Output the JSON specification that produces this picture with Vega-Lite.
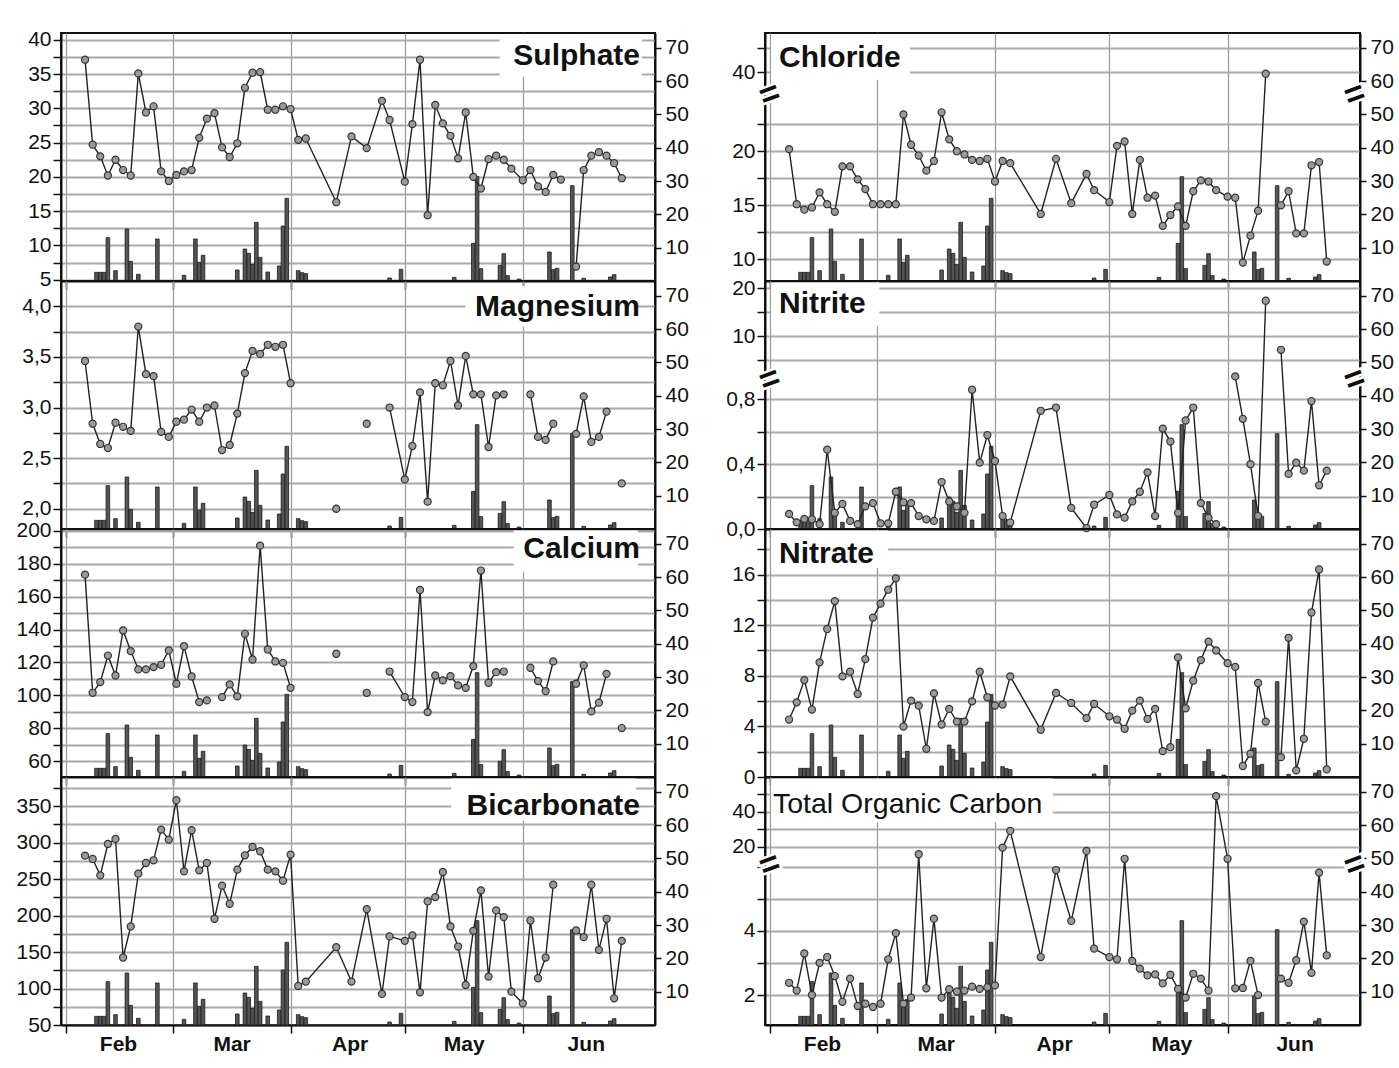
{
"$schema": "https://vega.github.io/schema/vega-lite/v6.json",
"background": "white",
"padding": {"left": 14, "top": 27, "right": 2, "bottom": 4},
"config": {
  "font": "Liberation Sans",
  "view": {"stroke": "#111", "strokeWidth": 2},
  "axis": {"labelFont": "Liberation Sans", "labelFontSize": 21, "labelColor": "#111", "domainColor": "#111", "domainWidth": 2, "tickColor": "#111", "tickWidth": 1.5, "tickSize": 8, "labelPadding": 2, "gridColor": "#a9a9a9", "gridWidth": 2, "title": null, "labelOverlap": false},
  "axisX": {"gridColor": "#9c9c9c", "gridWidth": 1.3},
  "title": {"font": "Liberation Sans", "fontSize": 30, "fontWeight": "bold", "color": "#111"}
},
"datasets": {
"rain": [
{"d":"2010-02-09","p":2.6},{"d":"2010-02-10","p":2.6},{"d":"2010-02-11","p":2.6},{"d":"2010-02-12","p":13.0},{"d":"2010-02-14","p":3.1},
{"d":"2010-02-17","p":15.6},{"d":"2010-02-18","p":5.9},{"d":"2010-02-20","p":2.0},{"d":"2010-02-25","p":12.6},{"d":"2010-03-04","p":1.7},
{"d":"2010-03-07","p":12.6},{"d":"2010-03-08","p":5.6},{"d":"2010-03-09","p":7.7},{"d":"2010-03-18","p":3.3},{"d":"2010-03-20","p":9.6},
{"d":"2010-03-21","p":8.3},{"d":"2010-03-22","p":5.0},{"d":"2010-03-23","p":17.6},{"d":"2010-03-24","p":7.1},{"d":"2010-03-26","p":2.7},
{"d":"2010-03-29","p":4.5},{"d":"2010-03-30","p":16.5},{"d":"2010-03-31","p":24.8},{"d":"2010-04-03","p":3.1},{"d":"2010-04-04","p":2.5},
{"d":"2010-04-05","p":2.2},{"d":"2010-04-27","p":0.9},{"d":"2010-04-30","p":3.5},{"d":"2010-05-14","p":1.1},{"d":"2010-05-19","p":11.3},
{"d":"2010-05-20","p":31.3},{"d":"2010-05-21","p":3.7},{"d":"2010-05-26","p":4.7},{"d":"2010-05-27","p":8.2},{"d":"2010-05-28","p":1.6},
{"d":"2010-05-31","p":0.6},{"d":"2010-06-08","p":8.7},{"d":"2010-06-09","p":3.4},{"d":"2010-06-10","p":3.8},{"d":"2010-06-14","p":28.6},
{"d":"2010-06-17","p":0.8},{"d":"2010-06-24","p":1.2},{"d":"2010-06-25","p":1.9}
],
"SO4": [
{"d":"2010-02-06","v":37.1,"s":1},{"d":"2010-02-08","v":24.7,"s":1},{"d":"2010-02-10","v":23.0,"s":1},{"d":"2010-02-12","v":20.2,"s":1},{"d":"2010-02-14","v":22.5,"s":1},{"d":"2010-02-16","v":21.0,"s":1},{"d":"2010-02-18","v":20.2,"s":1},{"d":"2010-02-20","v":35.1,"s":1},{"d":"2010-02-22","v":29.4,"s":1},{"d":"2010-02-24","v":30.3,"s":1},{"d":"2010-02-26","v":20.8,"s":1},{"d":"2010-02-28","v":19.4,"s":1},
{"d":"2010-03-02","v":20.3,"s":1},{"d":"2010-03-04","v":20.8,"s":1},{"d":"2010-03-06","v":21.0,"s":1},{"d":"2010-03-08","v":25.7,"s":1},{"d":"2010-03-10","v":28.5,"s":1},{"d":"2010-03-12","v":29.3,"s":1},{"d":"2010-03-14","v":24.3,"s":1},{"d":"2010-03-16","v":22.9,"s":1},{"d":"2010-03-18","v":24.9,"s":1},{"d":"2010-03-20","v":33.0,"s":1},{"d":"2010-03-22","v":35.2,"s":1},{"d":"2010-03-24","v":35.3,"s":1},{"d":"2010-03-26","v":29.8,"s":1},{"d":"2010-03-28","v":29.8,"s":1},{"d":"2010-03-30","v":30.3,"s":1},
{"d":"2010-04-01","v":29.9,"s":1},{"d":"2010-04-03","v":25.4,"s":1},{"d":"2010-04-05","v":25.6,"s":1},{"d":"2010-04-13","v":16.3,"s":1},{"d":"2010-04-17","v":25.9,"s":1},{"d":"2010-04-21","v":24.2,"s":1},{"d":"2010-04-25","v":31.1,"s":1},{"d":"2010-04-27","v":28.3,"s":1},
{"d":"2010-05-01","v":19.3,"s":1},{"d":"2010-05-03","v":27.7,"s":1},{"d":"2010-05-05","v":37.1,"s":1},{"d":"2010-05-07","v":14.4,"s":1},{"d":"2010-05-09","v":30.5,"s":1},{"d":"2010-05-11","v":27.8,"s":1},{"d":"2010-05-13","v":26.0,"s":1},{"d":"2010-05-15","v":22.7,"s":1},{"d":"2010-05-17","v":29.4,"s":1},{"d":"2010-05-19","v":20.0,"s":1},{"d":"2010-05-21","v":18.3,"s":1},{"d":"2010-05-23","v":22.6,"s":1},{"d":"2010-05-25","v":23.1,"s":1},{"d":"2010-05-27","v":22.5,"s":1},{"d":"2010-05-29","v":21.2,"s":1},
{"d":"2010-06-01","v":19.5,"s":1},{"d":"2010-06-03","v":21.0,"s":1},{"d":"2010-06-05","v":18.6,"s":1},{"d":"2010-06-07","v":17.8,"s":1},{"d":"2010-06-09","v":20.3,"s":1},{"d":"2010-06-11","v":19.6,"s":1},
{"d":"2010-06-15","v":6.9,"s":2},{"d":"2010-06-17","v":21.0,"s":2},{"d":"2010-06-19","v":23.1,"s":2},{"d":"2010-06-21","v":23.6,"s":2},{"d":"2010-06-23","v":23.1,"s":2},{"d":"2010-06-25","v":22.0,"s":2},{"d":"2010-06-27","v":19.8,"s":2}
],
"Mg": [
{"d":"2010-02-06","v":3.46,"s":1},{"d":"2010-02-08","v":2.84,"s":1},{"d":"2010-02-10","v":2.64,"s":1},{"d":"2010-02-12","v":2.60,"s":1},{"d":"2010-02-14","v":2.85,"s":1},{"d":"2010-02-16","v":2.81,"s":1},{"d":"2010-02-18","v":2.77,"s":1},{"d":"2010-02-20","v":3.80,"s":1},{"d":"2010-02-22","v":3.33,"s":1},{"d":"2010-02-24","v":3.31,"s":1},{"d":"2010-02-26","v":2.76,"s":1},{"d":"2010-02-28","v":2.71,"s":1},
{"d":"2010-03-02","v":2.86,"s":1},{"d":"2010-03-04","v":2.88,"s":1},{"d":"2010-03-06","v":2.98,"s":1},{"d":"2010-03-08","v":2.86,"s":1},{"d":"2010-03-10","v":3.00,"s":1},{"d":"2010-03-12","v":3.02,"s":1},{"d":"2010-03-14","v":2.58,"s":1},{"d":"2010-03-16","v":2.63,"s":1},{"d":"2010-03-18","v":2.94,"s":1},{"d":"2010-03-20","v":3.34,"s":1},{"d":"2010-03-22","v":3.56,"s":1},{"d":"2010-03-24","v":3.53,"s":1},{"d":"2010-03-26","v":3.62,"s":1},{"d":"2010-03-28","v":3.60,"s":1},{"d":"2010-03-30","v":3.62,"s":1},{"d":"2010-04-01","v":3.24,"s":1},
{"d":"2010-04-13","v":2.00,"s":2},
{"d":"2010-04-21","v":2.84,"s":3},
{"d":"2010-04-27","v":3.00,"s":4},{"d":"2010-05-01","v":2.29,"s":4},{"d":"2010-05-03","v":2.62,"s":4},{"d":"2010-05-05","v":3.15,"s":4},{"d":"2010-05-07","v":2.07,"s":4},{"d":"2010-05-09","v":3.24,"s":4},{"d":"2010-05-11","v":3.22,"s":4},{"d":"2010-05-13","v":3.46,"s":4},{"d":"2010-05-15","v":3.02,"s":4},{"d":"2010-05-17","v":3.51,"s":4},{"d":"2010-05-19","v":3.13,"s":4},{"d":"2010-05-21","v":3.13,"s":4},{"d":"2010-05-23","v":2.61,"s":4},{"d":"2010-05-25","v":3.12,"s":4},{"d":"2010-05-27","v":3.13,"s":4},
{"d":"2010-06-03","v":3.13,"s":5},{"d":"2010-06-05","v":2.71,"s":5},{"d":"2010-06-07","v":2.68,"s":5},{"d":"2010-06-09","v":2.84,"s":5},
{"d":"2010-06-15","v":2.74,"s":6},{"d":"2010-06-17","v":3.11,"s":6},{"d":"2010-06-19","v":2.66,"s":6},{"d":"2010-06-21","v":2.71,"s":6},{"d":"2010-06-23","v":2.96,"s":6},
{"d":"2010-06-27","v":2.25,"s":7}
],
"Ca": [
{"d":"2010-02-06","v":173.3,"s":1},{"d":"2010-02-08","v":101.6,"s":1},{"d":"2010-02-10","v":108.1,"s":1},{"d":"2010-02-12","v":124.2,"s":1},{"d":"2010-02-14","v":112.1,"s":1},{"d":"2010-02-16","v":139.4,"s":1},{"d":"2010-02-18","v":126.9,"s":1},{"d":"2010-02-20","v":115.8,"s":1},{"d":"2010-02-22","v":115.8,"s":1},{"d":"2010-02-24","v":117.2,"s":1},{"d":"2010-02-26","v":118.6,"s":1},{"d":"2010-02-28","v":127.3,"s":1},
{"d":"2010-03-02","v":107.1,"s":1},{"d":"2010-03-04","v":129.9,"s":1},{"d":"2010-03-06","v":111.5,"s":1},{"d":"2010-03-08","v":96.0,"s":1},{"d":"2010-03-10","v":97.0,"s":1},
{"d":"2010-03-14","v":99.0,"s":2},{"d":"2010-03-16","v":106.7,"s":2},{"d":"2010-03-18","v":99.4,"s":2},{"d":"2010-03-20","v":137.4,"s":2},{"d":"2010-03-22","v":121.8,"s":2},{"d":"2010-03-24","v":190.9,"s":2},{"d":"2010-03-26","v":127.9,"s":2},{"d":"2010-03-28","v":120.6,"s":2},{"d":"2010-03-30","v":119.8,"s":2},{"d":"2010-04-01","v":104.6,"s":2},
{"d":"2010-04-13","v":125.3,"s":3},
{"d":"2010-04-21","v":101.6,"s":4},
{"d":"2010-04-27","v":114.5,"s":5},{"d":"2010-05-01","v":99.0,"s":5},{"d":"2010-05-03","v":96.0,"s":5},{"d":"2010-05-05","v":164.0,"s":5},{"d":"2010-05-07","v":89.9,"s":5},{"d":"2010-05-09","v":112.1,"s":5},{"d":"2010-05-11","v":109.1,"s":5},{"d":"2010-05-13","v":111.7,"s":5},{"d":"2010-05-15","v":106.1,"s":5},{"d":"2010-05-17","v":104.6,"s":5},{"d":"2010-05-19","v":117.8,"s":5},{"d":"2010-05-21","v":175.8,"s":5},{"d":"2010-05-23","v":107.7,"s":5},{"d":"2010-05-25","v":114.1,"s":5},{"d":"2010-05-27","v":114.5,"s":5},
{"d":"2010-06-03","v":116.8,"s":6},{"d":"2010-06-05","v":108.7,"s":6},{"d":"2010-06-07","v":102.6,"s":6},{"d":"2010-06-09","v":120.6,"s":6},
{"d":"2010-06-15","v":107.1,"s":7},{"d":"2010-06-17","v":118.2,"s":7},{"d":"2010-06-19","v":90.3,"s":7},{"d":"2010-06-21","v":95.6,"s":7},{"d":"2010-06-23","v":113.1,"s":7},
{"d":"2010-06-27","v":80.2,"s":8}
],
"HCO3": [
{"d":"2010-02-06","v":282.2,"s":1},{"d":"2010-02-08","v":277.6,"s":1},{"d":"2010-02-10","v":255.2,"s":1},{"d":"2010-02-12","v":298.2,"s":1},{"d":"2010-02-14","v":305.1,"s":1},{"d":"2010-02-16","v":142.5,"s":1},{"d":"2010-02-18","v":185.1,"s":1},{"d":"2010-02-20","v":257.5,"s":1},{"d":"2010-02-22","v":272.1,"s":1},{"d":"2010-02-24","v":275.8,"s":1},{"d":"2010-02-26","v":317.9,"s":1},{"d":"2010-02-28","v":304.2,"s":1},
{"d":"2010-03-02","v":358.2,"s":1},{"d":"2010-03-04","v":260.7,"s":1},{"d":"2010-03-06","v":317.0,"s":1},{"d":"2010-03-08","v":262.0,"s":1},{"d":"2010-03-10","v":272.1,"s":1},{"d":"2010-03-12","v":195.6,"s":1},{"d":"2010-03-14","v":241.0,"s":1},{"d":"2010-03-16","v":216.2,"s":1},{"d":"2010-03-18","v":263.0,"s":1},{"d":"2010-03-20","v":282.7,"s":1},{"d":"2010-03-22","v":294.1,"s":1},{"d":"2010-03-24","v":288.2,"s":1},{"d":"2010-03-26","v":263.0,"s":1},{"d":"2010-03-28","v":260.7,"s":1},{"d":"2010-03-30","v":247.8,"s":1},
{"d":"2010-04-01","v":283.6,"s":1},{"d":"2010-04-03","v":103.5,"s":1},{"d":"2010-04-05","v":109.5,"s":1},{"d":"2010-04-13","v":156.7,"s":1},{"d":"2010-04-17","v":109.5,"s":1},{"d":"2010-04-21","v":208.9,"s":1},{"d":"2010-04-25","v":92.6,"s":1},{"d":"2010-04-27","v":171.4,"s":1},
{"d":"2010-05-01","v":165.4,"s":1},{"d":"2010-05-03","v":172.7,"s":1},{"d":"2010-05-05","v":94.8,"s":1},{"d":"2010-05-07","v":219.4,"s":1},{"d":"2010-05-09","v":225.4,"s":1},{"d":"2010-05-11","v":259.8,"s":1},{"d":"2010-05-13","v":185.1,"s":1},{"d":"2010-05-15","v":157.6,"s":1},{"d":"2010-05-17","v":104.9,"s":1},{"d":"2010-05-19","v":179.1,"s":1},{"d":"2010-05-21","v":234.6,"s":1},{"d":"2010-05-23","v":116.4,"s":1},{"d":"2010-05-25","v":207.1,"s":1},{"d":"2010-05-27","v":197.9,"s":1},{"d":"2010-05-29","v":95.7,"s":1},
{"d":"2010-06-01","v":79.7,"s":1},{"d":"2010-06-03","v":193.3,"s":1},{"d":"2010-06-05","v":114.1,"s":1},{"d":"2010-06-07","v":142.5,"s":1},{"d":"2010-06-09","v":242.3,"s":1},
{"d":"2010-06-15","v":179.6,"s":2},{"d":"2010-06-17","v":170.4,"s":2},{"d":"2010-06-19","v":242.3,"s":2},{"d":"2010-06-21","v":153.0,"s":2},{"d":"2010-06-23","v":195.6,"s":2},{"d":"2010-06-25","v":86.6,"s":2},{"d":"2010-06-27","v":165.4,"s":2}
],
"Cl": [
{"d":"2010-02-06","v":20.2,"s":1},{"d":"2010-02-08","v":15.1,"s":1},{"d":"2010-02-10","v":14.6,"s":1},{"d":"2010-02-12","v":14.8,"s":1},{"d":"2010-02-14","v":16.2,"s":1},{"d":"2010-02-16","v":15.1,"s":1},{"d":"2010-02-18","v":14.4,"s":1},{"d":"2010-02-20","v":18.6,"s":1},{"d":"2010-02-22","v":18.6,"s":1},{"d":"2010-02-24","v":17.4,"s":1},{"d":"2010-02-26","v":16.5,"s":1},{"d":"2010-02-28","v":15.1,"s":1},
{"d":"2010-03-02","v":15.1,"s":1},{"d":"2010-03-04","v":15.1,"s":1},{"d":"2010-03-06","v":15.1,"s":1},{"d":"2010-03-08","v":23.4,"s":1},{"d":"2010-03-10","v":20.6,"s":1},{"d":"2010-03-12","v":19.6,"s":1},{"d":"2010-03-14","v":18.2,"s":1},{"d":"2010-03-16","v":19.1,"s":1},{"d":"2010-03-18","v":23.6,"s":1},{"d":"2010-03-20","v":21.1,"s":1},{"d":"2010-03-22","v":20.0,"s":1},{"d":"2010-03-24","v":19.7,"s":1},{"d":"2010-03-26","v":19.2,"s":1},{"d":"2010-03-28","v":19.1,"s":1},{"d":"2010-03-30","v":19.3,"s":1},
{"d":"2010-04-01","v":17.2,"s":1},{"d":"2010-04-03","v":19.1,"s":1},{"d":"2010-04-05","v":18.9,"s":1},{"d":"2010-04-13","v":14.2,"s":1},{"d":"2010-04-17","v":19.3,"s":1},{"d":"2010-04-21","v":15.2,"s":1},{"d":"2010-04-25","v":17.9,"s":1},{"d":"2010-04-27","v":16.4,"s":1},
{"d":"2010-05-01","v":15.3,"s":1},{"d":"2010-05-03","v":20.5,"s":1},{"d":"2010-05-05","v":20.9,"s":1},{"d":"2010-05-07","v":14.2,"s":1},{"d":"2010-05-09","v":19.2,"s":1},{"d":"2010-05-11","v":15.7,"s":1},{"d":"2010-05-13","v":15.9,"s":1},{"d":"2010-05-15","v":13.1,"s":1},{"d":"2010-05-17","v":14.1,"s":1},{"d":"2010-05-19","v":14.9,"s":1},{"d":"2010-05-21","v":13.1,"s":1},{"d":"2010-05-23","v":16.3,"s":1},{"d":"2010-05-25","v":17.3,"s":1},{"d":"2010-05-27","v":17.2,"s":1},{"d":"2010-05-29","v":16.4,"s":1},
{"d":"2010-06-01","v":15.8,"s":1},{"d":"2010-06-03","v":15.7,"s":1},{"d":"2010-06-05","v":9.7,"s":1},{"d":"2010-06-07","v":12.2,"s":1},{"d":"2010-06-09","v":14.5,"s":1},{"d":"2010-06-11","v":39.5,"s":1},
{"d":"2010-06-15","v":15.0,"s":2},{"d":"2010-06-17","v":16.3,"s":2},{"d":"2010-06-19","v":12.4,"s":2},{"d":"2010-06-21","v":12.4,"s":2},{"d":"2010-06-23","v":18.7,"s":2},{"d":"2010-06-25","v":19.0,"s":2},{"d":"2010-06-27","v":9.8,"s":2}
],
"NO2": [
{"d":"2010-02-06","v":0.093,"s":1},{"d":"2010-02-08","v":0.041,"s":1},{"d":"2010-02-10","v":0.062,"s":1},{"d":"2010-02-12","v":0.06,"s":1},{"d":"2010-02-14","v":0.03,"s":1},{"d":"2010-02-16","v":0.49,"s":1},{"d":"2010-02-18","v":0.10,"s":1},{"d":"2010-02-20","v":0.155,"s":1},{"d":"2010-02-22","v":0.05,"s":1},{"d":"2010-02-24","v":0.03,"s":1},{"d":"2010-02-26","v":0.14,"s":1},{"d":"2010-02-28","v":0.16,"s":1},
{"d":"2010-03-02","v":0.035,"s":1},{"d":"2010-03-04","v":0.035,"s":1},{"d":"2010-03-06","v":0.23,"s":1},{"d":"2010-03-08","v":0.165,"s":1},{"d":"2010-03-10","v":0.16,"s":1},{"d":"2010-03-12","v":0.08,"s":1},{"d":"2010-03-14","v":0.06,"s":1},{"d":"2010-03-16","v":0.05,"s":1},{"d":"2010-03-18","v":0.29,"s":1},{"d":"2010-03-20","v":0.17,"s":1},{"d":"2010-03-22","v":0.14,"s":1},{"d":"2010-03-24","v":0.10,"s":1},{"d":"2010-03-26","v":0.86,"s":1},{"d":"2010-03-28","v":0.41,"s":1},{"d":"2010-03-30","v":0.58,"s":1},
{"d":"2010-04-01","v":0.42,"s":1},{"d":"2010-04-03","v":0.08,"s":1},{"d":"2010-04-05","v":0.04,"s":1},{"d":"2010-04-13","v":0.73,"s":1},{"d":"2010-04-17","v":0.75,"s":1},{"d":"2010-04-21","v":0.13,"s":1},{"d":"2010-04-25","v":0.006,"s":1},{"d":"2010-04-27","v":0.15,"s":1},
{"d":"2010-05-01","v":0.21,"s":1},{"d":"2010-05-03","v":0.09,"s":1},{"d":"2010-05-05","v":0.07,"s":1},{"d":"2010-05-07","v":0.17,"s":1},{"d":"2010-05-09","v":0.23,"s":1},{"d":"2010-05-11","v":0.35,"s":1},{"d":"2010-05-13","v":0.08,"s":1},{"d":"2010-05-15","v":0.62,"s":1},{"d":"2010-05-17","v":0.54,"s":1},{"d":"2010-05-19","v":0.10,"s":1},{"d":"2010-05-21","v":0.67,"s":1},{"d":"2010-05-23","v":0.75,"s":1},{"d":"2010-05-25","v":0.16,"s":1},{"d":"2010-05-27","v":0.07,"s":1},{"d":"2010-05-29","v":0.03,"s":1},
{"d":"2010-06-03","v":1.67,"s":2},{"d":"2010-06-05","v":0.68,"s":2},{"d":"2010-06-07","v":0.40,"s":2},{"d":"2010-06-09","v":0.08,"s":2},{"d":"2010-06-11","v":17.4,"s":2},
{"d":"2010-06-15","v":7.2,"s":3},{"d":"2010-06-17","v":0.34,"s":3},{"d":"2010-06-19","v":0.41,"s":3},{"d":"2010-06-21","v":0.36,"s":3},{"d":"2010-06-23","v":0.79,"s":3},{"d":"2010-06-25","v":0.27,"s":3},{"d":"2010-06-27","v":0.36,"s":3}
],
"NO3": [
{"d":"2010-02-06","v":4.54,"s":1},{"d":"2010-02-08","v":5.9,"s":1},{"d":"2010-02-10","v":7.66,"s":1},{"d":"2010-02-12","v":5.33,"s":1},{"d":"2010-02-14","v":9.06,"s":1},{"d":"2010-02-16","v":11.7,"s":1},{"d":"2010-02-18","v":13.9,"s":1},{"d":"2010-02-20","v":7.95,"s":1},{"d":"2010-02-22","v":8.32,"s":1},{"d":"2010-02-24","v":6.56,"s":1},{"d":"2010-02-26","v":9.32,"s":1},{"d":"2010-02-28","v":12.6,"s":1},
{"d":"2010-03-02","v":13.7,"s":1},{"d":"2010-03-04","v":14.8,"s":1},{"d":"2010-03-06","v":15.7,"s":1},{"d":"2010-03-08","v":3.99,"s":1},{"d":"2010-03-10","v":6.04,"s":1},{"d":"2010-03-12","v":5.64,"s":1},{"d":"2010-03-14","v":2.23,"s":1},{"d":"2010-03-16","v":6.61,"s":1},{"d":"2010-03-18","v":4.15,"s":1},{"d":"2010-03-20","v":5.38,"s":1},{"d":"2010-03-22","v":4.38,"s":1},{"d":"2010-03-24","v":4.38,"s":1},{"d":"2010-03-26","v":5.98,"s":1},{"d":"2010-03-28","v":8.32,"s":1},{"d":"2010-03-30","v":6.3,"s":1},
{"d":"2010-04-01","v":5.65,"s":1},{"d":"2010-04-03","v":5.72,"s":1},{"d":"2010-04-05","v":7.95,"s":1},{"d":"2010-04-13","v":3.73,"s":1},{"d":"2010-04-17","v":6.64,"s":1},{"d":"2010-04-21","v":5.85,"s":1},{"d":"2010-04-25","v":4.65,"s":1},{"d":"2010-04-27","v":5.77,"s":1},
{"d":"2010-05-01","v":4.8,"s":1},{"d":"2010-05-03","v":4.54,"s":1},{"d":"2010-05-05","v":3.81,"s":1},{"d":"2010-05-07","v":5.25,"s":1},{"d":"2010-05-09","v":6.04,"s":1},{"d":"2010-05-11","v":4.59,"s":1},{"d":"2010-05-13","v":5.38,"s":1},{"d":"2010-05-15","v":2.05,"s":1},{"d":"2010-05-17","v":2.36,"s":1},{"d":"2010-05-19","v":9.45,"s":1},{"d":"2010-05-21","v":5.43,"s":1},{"d":"2010-05-23","v":7.61,"s":1},{"d":"2010-05-25","v":9.24,"s":1},{"d":"2010-05-27","v":10.7,"s":1},{"d":"2010-05-29","v":10.0,"s":1},
{"d":"2010-06-01","v":9.0,"s":1},{"d":"2010-06-03","v":8.7,"s":1},{"d":"2010-06-05","v":0.87,"s":1},{"d":"2010-06-07","v":1.84,"s":1},{"d":"2010-06-09","v":7.43,"s":1},{"d":"2010-06-11","v":4.38,"s":1},
{"d":"2010-06-15","v":1.57,"s":2},{"d":"2010-06-17","v":11.0,"s":2},{"d":"2010-06-19","v":0.52,"s":2},{"d":"2010-06-21","v":3.02,"s":2},{"d":"2010-06-23","v":13.0,"s":2},{"d":"2010-06-25","v":16.4,"s":2},{"d":"2010-06-27","v":0.6,"s":2}
],
"TOC": [
{"d":"2010-02-06","v":2.39,"s":1},{"d":"2010-02-08","v":2.15,"s":1},{"d":"2010-02-10","v":3.30,"s":1},{"d":"2010-02-12","v":2.01,"s":1},{"d":"2010-02-14","v":3.01,"s":1},{"d":"2010-02-16","v":3.19,"s":1},{"d":"2010-02-18","v":2.60,"s":1},{"d":"2010-02-20","v":1.80,"s":1},{"d":"2010-02-22","v":2.52,"s":1},{"d":"2010-02-24","v":1.67,"s":1},{"d":"2010-02-26","v":1.74,"s":1},{"d":"2010-02-28","v":1.64,"s":1},
{"d":"2010-03-02","v":1.74,"s":1},{"d":"2010-03-04","v":3.12,"s":1},{"d":"2010-03-06","v":3.93,"s":1},{"d":"2010-03-08","v":1.74,"s":1},{"d":"2010-03-10","v":1.93,"s":1},{"d":"2010-03-12","v":15.6,"s":1},{"d":"2010-03-14","v":2.22,"s":1},{"d":"2010-03-16","v":4.38,"s":1},{"d":"2010-03-18","v":1.93,"s":1},{"d":"2010-03-20","v":2.19,"s":1},{"d":"2010-03-22","v":2.12,"s":1},{"d":"2010-03-24","v":2.15,"s":1},{"d":"2010-03-26","v":2.27,"s":1},{"d":"2010-03-28","v":2.2,"s":1},{"d":"2010-03-30","v":2.25,"s":1},
{"d":"2010-04-01","v":2.31,"s":1},{"d":"2010-04-03","v":19.4,"s":1},{"d":"2010-04-05","v":29.0,"s":1},{"d":"2010-04-13","v":3.19,"s":1},{"d":"2010-04-17","v":5.89,"s":1},{"d":"2010-04-21","v":4.31,"s":1},{"d":"2010-04-25","v":17.5,"s":1},{"d":"2010-04-27","v":3.45,"s":1},
{"d":"2010-05-01","v":3.19,"s":1},{"d":"2010-05-03","v":3.12,"s":1},{"d":"2010-05-05","v":13.0,"s":1},{"d":"2010-05-07","v":3.07,"s":1},{"d":"2010-05-09","v":2.83,"s":1},{"d":"2010-05-11","v":2.62,"s":1},{"d":"2010-05-13","v":2.65,"s":1},{"d":"2010-05-15","v":2.37,"s":1},{"d":"2010-05-17","v":2.64,"s":1},{"d":"2010-05-19","v":2.2,"s":1},{"d":"2010-05-21","v":1.93,"s":1},{"d":"2010-05-23","v":2.67,"s":1},{"d":"2010-05-25","v":2.52,"s":1},{"d":"2010-05-27","v":2.15,"s":1},{"d":"2010-05-29","v":49.0,"s":1},
{"d":"2010-06-01","v":13.0,"s":1},{"d":"2010-06-03","v":2.22,"s":1},{"d":"2010-06-05","v":2.23,"s":1},{"d":"2010-06-07","v":3.07,"s":1},{"d":"2010-06-09","v":2.01,"s":1},
{"d":"2010-06-15","v":2.52,"s":2},{"d":"2010-06-17","v":2.39,"s":2},{"d":"2010-06-19","v":3.09,"s":2},{"d":"2010-06-21","v":4.29,"s":2},{"d":"2010-06-23","v":2.70,"s":2},{"d":"2010-06-25","v":5.81,"s":2},{"d":"2010-06-27","v":3.24,"s":2}
]
},
"spacing": 34,
"hconcat": [
{"vconcat": [
 {"width": 594, "height": 248,
  "title": {"text": "Sulphate", "anchor": "end", "frame": "group", "offset": -42, "dx": -15},
  "layer": [
   {"data": {"name": "rain"}, "mark": {"type": "bar", "width": 3.6, "fill": "#555", "stroke": "#1a1a1a", "strokeWidth": 0.8},
    "encoding": {
     "x": {"field":"d","type":"temporal","scale":{"type":"utc","domain":[{"year":2010,"month":2,"date":1,"utc":true},{"year":2010,"month":7,"date":4,"hours":10,"utc":true}]},"axis":{"values":[{"year":2010,"month":2,"date":1,"utc":true},{"year":2010,"month":3,"date":1,"utc":true},{"year":2010,"month":4,"date":1,"utc":true},{"year":2010,"month":5,"date":1,"utc":true},{"year":2010,"month":6,"date":1,"utc":true}],"labels":false,"grid":true}},
     "y": {"field": "p", "type": "quantitative", "scale": {"domain": [0, 74.4], "nice": false}, "axis": {"orient": "right", "values": [10,20,30,40,50,60,70], "grid": false, "tickSize": 6, "labelPadding": 4, "labelOverlap": false}}}},
   {"data": {"name": "SO4"}, "layer": [
     {"data": {"values": [{}]}, "mark": {"type": "rect", "fill": "white"},
      "encoding": {"x": {"datum": {"year":2010,"month":5,"date":25,"hours":22,"utc":true}, "type": "temporal"}, "x2": {"datum": {"year":2010,"month":7,"date":2,"hours":7,"utc":true}},
       "y": {"datum": 40.78, "type": "quantitative", "axis": {"orient": "left", "values": [5,7.5,10,12.5,15,17.5,20,22.5,25,27.5,30,32.5,35,37.5,40], "labelExpr": "datum.value % 5 === 0 ? '' + datum.value : ''", "grid": true, "labelOverlap": false}}, "y2": {"datum": 34.6}}},
     {"mark": {"type": "line", "color": "#222", "strokeWidth": 1.4},
      "encoding": {"x": {"field":"d","type":"temporal"}, "detail": {"field": "s"},
       "y": {"field": "v", "type": "quantitative", "scale": {"domain": [4.8, 41], "nice": false, "zero": false}, "axis": {"orient": "left", "values": [5,7.5,10,12.5,15,17.5,20,22.5,25,27.5,30,32.5,35,37.5,40], "labelExpr": "datum.value % 5 === 0 ? '' + datum.value : ''", "grid": true, "labelOverlap": false}}}},
     {"mark": {"type": "point", "shape": "circle", "filled": true, "fill": "#9a9a9a", "stroke": "#333", "strokeWidth": 1.2, "size": 50, "opacity": 1},
      "encoding": {"x": {"field":"d","type":"temporal"}, "y": {"field": "v", "type": "quantitative", "axis": {"orient": "left", "values": [5,7.5,10,12.5,15,17.5,20,22.5,25,27.5,30,32.5,35,37.5,40], "labelExpr": "datum.value % 5 === 0 ? '' + datum.value : ''", "grid": true, "labelOverlap": false}}}}
   ]}
  ],
  "resolve": {"scale": {"y": "independent"}}
 },
 {"width": 594, "height": 248,
  "title": {"text": "Magnesium", "anchor": "end", "frame": "group", "offset": -41, "dx": -15},
  "layer": [
   {"data": {"name": "rain"}, "mark": {"type": "bar", "width": 3.6, "fill": "#555", "stroke": "#1a1a1a", "strokeWidth": 0.8},
    "encoding": {
     "x": {"field":"d","type":"temporal","scale":{"type":"utc","domain":[{"year":2010,"month":2,"date":1,"utc":true},{"year":2010,"month":7,"date":4,"hours":10,"utc":true}]},"axis":{"values":[{"year":2010,"month":2,"date":1,"utc":true},{"year":2010,"month":3,"date":1,"utc":true},{"year":2010,"month":4,"date":1,"utc":true},{"year":2010,"month":5,"date":1,"utc":true},{"year":2010,"month":6,"date":1,"utc":true}],"labels":false,"grid":true}},
     "y": {"field": "p", "type": "quantitative", "scale": {"domain": [0, 74.4], "nice": false}, "axis": {"orient": "right", "values": [10,20,30,40,50,60,70], "grid": false, "tickSize": 6, "labelPadding": 4, "labelOverlap": false}}}},
   {"data": {"name": "Mg"}, "layer": [
     {"data": {"values": [{}]}, "mark": {"type": "rect", "fill": "white"},
      "encoding": {"x": {"datum": {"year":2010,"month":5,"date":16,"hours":22,"utc":true}, "type": "temporal"}, "x2": {"datum": {"year":2010,"month":7,"date":1,"hours":5,"utc":true}},
       "y": {"datum": 4.2, "type": "quantitative", "axis": {"orient": "left", "values": [2,2.25,2.5,2.75,3,3.25,3.5,3.75,4], "labelExpr": "(datum.value * 2) % 1 === 0 ? replace(format(datum.value, '.1f'), '.', ',') : ''", "grid": true, "labelOverlap": false}}, "y2": {"datum": 3.8}}},
     {"mark": {"type": "line", "color": "#222", "strokeWidth": 1.4},
      "encoding": {"x": {"field":"d","type":"temporal"}, "detail": {"field": "s"},
       "y": {"field": "v", "type": "quantitative", "scale": {"domain": [1.8, 4.25], "nice": false, "zero": false}, "axis": {"orient": "left", "values": [2,2.25,2.5,2.75,3,3.25,3.5,3.75,4], "labelExpr": "(datum.value * 2) % 1 === 0 ? replace(format(datum.value, '.1f'), '.', ',') : ''", "grid": true, "labelOverlap": false}}}},
     {"mark": {"type": "point", "shape": "circle", "filled": true, "fill": "#9a9a9a", "stroke": "#333", "strokeWidth": 1.2, "size": 50, "opacity": 1},
      "encoding": {"x": {"field":"d","type":"temporal"}, "y": {"field": "v", "type": "quantitative", "axis": {"orient": "left", "values": [2,2.25,2.5,2.75,3,3.25,3.5,3.75,4], "labelExpr": "(datum.value * 2) % 1 === 0 ? replace(format(datum.value, '.1f'), '.', ',') : ''", "grid": true, "labelOverlap": false}}}}
   ]}
  ],
  "resolve": {"scale": {"y": "independent"}}
 },
 {"width": 594, "height": 248,
  "title": {"text": "Calcium", "anchor": "end", "frame": "group", "offset": -44, "dx": -15},
  "layer": [
   {"data": {"name": "rain"}, "mark": {"type": "bar", "width": 3.6, "fill": "#555", "stroke": "#1a1a1a", "strokeWidth": 0.8},
    "encoding": {
     "x": {"field":"d","type":"temporal","scale":{"type":"utc","domain":[{"year":2010,"month":2,"date":1,"utc":true},{"year":2010,"month":7,"date":4,"hours":10,"utc":true}]},"axis":{"values":[{"year":2010,"month":2,"date":1,"utc":true},{"year":2010,"month":3,"date":1,"utc":true},{"year":2010,"month":4,"date":1,"utc":true},{"year":2010,"month":5,"date":1,"utc":true},{"year":2010,"month":6,"date":1,"utc":true}],"labels":false,"grid":true}},
     "y": {"field": "p", "type": "quantitative", "scale": {"domain": [0, 74.4], "nice": false}, "axis": {"orient": "right", "values": [10,20,30,40,50,60,70], "grid": false, "tickSize": 6, "labelPadding": 4, "labelOverlap": false}}}},
   {"data": {"name": "Ca"}, "layer": [
     {"data": {"values": [{}]}, "mark": {"type": "rect", "fill": "white"},
      "encoding": {"x": {"datum": {"year":2010,"month":5,"date":29,"hours":14,"utc":true}, "type": "temporal"}, "x2": {"datum": {"year":2010,"month":7,"date":1,"hours":5,"utc":true}},
       "y": {"datum": 200.1, "type": "quantitative", "axis": {"orient": "left", "values": [60,70,80,90,100,110,120,130,140,150,160,170,180,190,200], "labelExpr": "datum.value % 20 === 0 ? '' + datum.value : ''", "grid": true, "labelOverlap": false}}, "y2": {"datum": 175}}},
     {"mark": {"type": "line", "color": "#222", "strokeWidth": 1.4},
      "encoding": {"x": {"field":"d","type":"temporal"}, "detail": {"field": "s"},
       "y": {"field": "v", "type": "quantitative", "scale": {"domain": [50.5, 201], "nice": false, "zero": false}, "axis": {"orient": "left", "values": [60,70,80,90,100,110,120,130,140,150,160,170,180,190,200], "labelExpr": "datum.value % 20 === 0 ? '' + datum.value : ''", "grid": true, "labelOverlap": false}}}},
     {"mark": {"type": "point", "shape": "circle", "filled": true, "fill": "#9a9a9a", "stroke": "#333", "strokeWidth": 1.2, "size": 50, "opacity": 1},
      "encoding": {"x": {"field":"d","type":"temporal"}, "y": {"field": "v", "type": "quantitative", "axis": {"orient": "left", "values": [60,70,80,90,100,110,120,130,140,150,160,170,180,190,200], "labelExpr": "datum.value % 20 === 0 ? '' + datum.value : ''", "grid": true, "labelOverlap": false}}}}
   ]}
  ],
  "resolve": {"scale": {"y": "independent"}}
 },
 {"width": 594, "height": 248,
  "title": {"text": "Bicarbonate", "anchor": "end", "frame": "group", "offset": -44, "dx": -15},
  "layer": [
   {"data": {"name": "rain"}, "mark": {"type": "bar", "width": 3.6, "fill": "#555", "stroke": "#1a1a1a", "strokeWidth": 0.8},
    "encoding": {
     "x": {"field":"d","type":"temporal","scale":{"type":"utc","domain":[{"year":2010,"month":2,"date":1,"utc":true},{"year":2010,"month":7,"date":4,"hours":10,"utc":true}]},"axis":{"values":[{"year":2010,"month":2,"date":1,"utc":true},{"year":2010,"month":3,"date":1,"utc":true},{"year":2010,"month":4,"date":1,"utc":true},{"year":2010,"month":5,"date":1,"utc":true},{"year":2010,"month":6,"date":1,"utc":true}],"labels":true,"grid":true,"labelExpr":"utcFormat(datum.value, '%b')","labelOffset":{"condition":[{"test":"utcmonth(datum.value) === 1","value":52},{"test":"utcmonth(datum.value) === 5","value":63}],"value":59},"labelFontWeight":"bold","labelPadding":0,"labelFlush":false,"labelBound":false,"labelOverlap":false}},
     "y": {"field": "p", "type": "quantitative", "scale": {"domain": [0, 74.4], "nice": false}, "axis": {"orient": "right", "values": [10,20,30,40,50,60,70], "grid": false, "tickSize": 6, "labelPadding": 4, "labelOverlap": false}}}},
   {"data": {"name": "HCO3"}, "layer": [
     {"data": {"values": [{}]}, "mark": {"type": "rect", "fill": "white"},
      "encoding": {"x": {"datum": {"year":2010,"month":5,"date":13,"hours":5,"utc":true}, "type": "temporal"}, "x2": {"datum": {"year":2010,"month":6,"date":30,"hours":17,"utc":true}},
       "y": {"datum": 388, "type": "quantitative", "axis": {"orient": "left", "values": [50,75,100,125,150,175,200,225,250,275,300,325,350,375], "labelExpr": "datum.value % 50 === 0 ? '' + datum.value : ''", "grid": true, "labelOverlap": false}}, "y2": {"datum": 330}}},
     {"mark": {"type": "line", "color": "#222", "strokeWidth": 1.4},
      "encoding": {"x": {"field":"d","type":"temporal"}, "detail": {"field": "s"},
       "y": {"field": "v", "type": "quantitative", "scale": {"domain": [50, 390], "nice": false, "zero": false}, "axis": {"orient": "left", "values": [50,75,100,125,150,175,200,225,250,275,300,325,350,375], "labelExpr": "datum.value % 50 === 0 ? '' + datum.value : ''", "grid": true, "labelOverlap": false}}}},
     {"mark": {"type": "point", "shape": "circle", "filled": true, "fill": "#9a9a9a", "stroke": "#333", "strokeWidth": 1.2, "size": 50, "opacity": 1},
      "encoding": {"x": {"field":"d","type":"temporal"}, "y": {"field": "v", "type": "quantitative", "axis": {"orient": "left", "values": [50,75,100,125,150,175,200,225,250,275,300,325,350,375], "labelExpr": "datum.value % 50 === 0 ? '' + datum.value : ''", "grid": true, "labelOverlap": false}}}}
   ]}
  ],
  "resolve": {"scale": {"y": "independent"}}
 }
], "spacing": 0, "bounds": "flush"},
{"vconcat": [
 {"width": 595, "height": 248,
  "title": {"text": "Chloride", "anchor": "start", "frame": "group", "offset": -40, "dx": 14},
  "layer": [
   {"data": {"name": "rain"}, "mark": {"type": "bar", "width": 3.6, "fill": "#555", "stroke": "#1a1a1a", "strokeWidth": 0.8},
    "encoding": {
     "x": {"field":"d","type":"temporal","scale":{"type":"utc","domain":[{"year":2010,"month":2,"date":1,"utc":true},{"year":2010,"month":7,"date":4,"hours":10,"utc":true}]},"axis":{"values":[{"year":2010,"month":2,"date":1,"utc":true},{"year":2010,"month":3,"date":1,"utc":true},{"year":2010,"month":4,"date":1,"utc":true},{"year":2010,"month":5,"date":1,"utc":true},{"year":2010,"month":6,"date":1,"utc":true}],"labels":false,"grid":true}},
     "y": {"field": "p", "type": "quantitative", "scale": {"domain": [0, 74.4], "nice": false}, "axis": {"orient": "right", "values": [10,20,30,40,50,60,70], "grid": false, "tickSize": 6, "labelPadding": 4, "labelOverlap": false}}}},
   {"data": {"name": "Cl"}, "layer": [
     {"data": {"values": [{}]}, "mark": {"type": "rect", "fill": "white"},
      "encoding": {"x": {"datum": {"year":2010,"month":2,"date":1,"hours":8,"utc":true}, "type": "temporal"}, "x2": {"datum": {"year":2010,"month":3,"date":9,"hours":17,"utc":true}},
       "y": {"datum": 55.4, "type": "quantitative", "axis": {"orient": "left", "values": [10,12.5,15,17.5,20,22.5,40,50], "labelExpr": "indexof([10,15,20,40], datum.value) >= 0 ? '' + datum.value : ''", "grid": true, "labelOverlap": false}}, "y2": {"datum": 37}}},
     {"mark": {"type": "line", "color": "#222", "strokeWidth": 1.4},
      "encoding": {"x": {"field":"d","type":"temporal"}, "detail": {"field": "s"},
       "y": {"field": "v", "type": "quantitative", "scale": {"domain": [8, 25.2, 31, 56], "range": [248, 62, 61.7, 0], "nice": false, "zero": false}, "axis": {"orient": "left", "values": [10,12.5,15,17.5,20,22.5,40,50], "labelExpr": "indexof([10,15,20,40], datum.value) >= 0 ? '' + datum.value : ''", "grid": true, "labelOverlap": false}}}},
     {"mark": {"type": "point", "shape": "circle", "filled": true, "fill": "#9a9a9a", "stroke": "#333", "strokeWidth": 1.2, "size": 50, "opacity": 1},
      "encoding": {"x": {"field":"d","type":"temporal"}, "y": {"field": "v", "type": "quantitative", "axis": {"orient": "left", "values": [10,12.5,15,17.5,20,22.5,40,50], "labelExpr": "indexof([10,15,20,40], datum.value) >= 0 ? '' + datum.value : ''", "grid": true, "labelOverlap": false}}}},
     {"data": {"values": [{}]}, "mark": {"type": "text", "text": "=", "fontSize": 34, "fontWeight": "bold", "angle": -20, "fill": "white", "stroke": "white", "strokeWidth": 5},
      "encoding": {"x": {"datum": {"year":2010,"month":2,"date":1,"utc":true}, "type": "temporal"}, "y": {"datum": 28, "type": "quantitative", "axis": {"orient": "left", "values": [10,12.5,15,17.5,20,22.5,40,50], "labelExpr": "indexof([10,15,20,40], datum.value) >= 0 ? '' + datum.value : ''", "grid": true, "labelOverlap": false}}}},
     {"data": {"values": [{}]}, "mark": {"type": "text", "text": "=", "fontSize": 34, "fontWeight": "bold", "angle": -20, "fill": "#111"},
      "encoding": {"x": {"datum": {"year":2010,"month":2,"date":1,"utc":true}, "type": "temporal"}, "y": {"datum": 28, "type": "quantitative", "axis": {"orient": "left", "values": [10,12.5,15,17.5,20,22.5,40,50], "labelExpr": "indexof([10,15,20,40], datum.value) >= 0 ? '' + datum.value : ''", "grid": true, "labelOverlap": false}}}},
     {"data": {"values": [{}]}, "mark": {"type": "text", "text": "=", "fontSize": 34, "fontWeight": "bold", "angle": -20, "fill": "white", "stroke": "white", "strokeWidth": 5},
      "encoding": {"x": {"datum": {"year":2010,"month":7,"date":4,"hours":10,"utc":true}, "type": "temporal"}, "y": {"datum": 28, "type": "quantitative", "axis": {"orient": "left", "values": [10,12.5,15,17.5,20,22.5,40,50], "labelExpr": "indexof([10,15,20,40], datum.value) >= 0 ? '' + datum.value : ''", "grid": true, "labelOverlap": false}}}},
     {"data": {"values": [{}]}, "mark": {"type": "text", "text": "=", "fontSize": 34, "fontWeight": "bold", "angle": -20, "fill": "#111"},
      "encoding": {"x": {"datum": {"year":2010,"month":7,"date":4,"hours":10,"utc":true}, "type": "temporal"}, "y": {"datum": 28, "type": "quantitative", "axis": {"orient": "left", "values": [10,12.5,15,17.5,20,22.5,40,50], "labelExpr": "indexof([10,15,20,40], datum.value) >= 0 ? '' + datum.value : ''", "grid": true, "labelOverlap": false}}}}
   ]}
  ],
  "resolve": {"scale": {"y": "independent"}}
 },
 {"width": 595, "height": 248,
  "title": {"text": "Nitrite", "anchor": "start", "frame": "group", "offset": -42, "dx": 14},
  "layer": [
   {"data": {"name": "rain"}, "mark": {"type": "bar", "width": 3.6, "fill": "#555", "stroke": "#1a1a1a", "strokeWidth": 0.8},
    "encoding": {
     "x": {"field":"d","type":"temporal","scale":{"type":"utc","domain":[{"year":2010,"month":2,"date":1,"utc":true},{"year":2010,"month":7,"date":4,"hours":10,"utc":true}]},"axis":{"values":[{"year":2010,"month":2,"date":1,"utc":true},{"year":2010,"month":3,"date":1,"utc":true},{"year":2010,"month":4,"date":1,"utc":true},{"year":2010,"month":5,"date":1,"utc":true},{"year":2010,"month":6,"date":1,"utc":true}],"labels":false,"grid":true}},
     "y": {"field": "p", "type": "quantitative", "scale": {"domain": [0, 74.4], "nice": false}, "axis": {"orient": "right", "values": [10,20,30,40,50,60,70], "grid": false, "tickSize": 6, "labelPadding": 4, "labelOverlap": false}}}},
   {"data": {"name": "NO2"}, "layer": [
     {"data": {"values": [{}]}, "mark": {"type": "rect", "fill": "white"},
      "encoding": {"x": {"datum": {"year":2010,"month":2,"date":1,"hours":8,"utc":true}, "type": "temporal"}, "x2": {"datum": {"year":2010,"month":3,"date":1,"hours":17,"utc":true}},
       "y": {"datum": 21.2, "type": "quantitative", "axis": {"orient": "left", "values": [0,0.2,0.4,0.6,0.8,5,10,15,20], "labelExpr": "indexof([0,0.4,0.8], datum.value) >= 0 ? replace(format(datum.value, '.1f'), '.', ',') : (indexof([10,20], datum.value) >= 0 ? '' + datum.value : '')", "grid": true, "labelOverlap": false}}, "y2": {"datum": 12.1}}},
     {"mark": {"type": "line", "color": "#222", "strokeWidth": 1.4},
      "encoding": {"x": {"field":"d","type":"temporal"}, "detail": {"field": "s"},
       "y": {"field": "v", "type": "quantitative", "scale": {"domain": [0, 0.92, 21.5], "range": [248, 99, 0], "nice": false, "zero": false}, "axis": {"orient": "left", "values": [0,0.2,0.4,0.6,0.8,5,10,15,20], "labelExpr": "indexof([0,0.4,0.8], datum.value) >= 0 ? replace(format(datum.value, '.1f'), '.', ',') : (indexof([10,20], datum.value) >= 0 ? '' + datum.value : '')", "grid": true, "labelOverlap": false}}}},
     {"mark": {"type": "point", "shape": "circle", "filled": true, "fill": "#9a9a9a", "stroke": "#333", "strokeWidth": 1.2, "size": 50, "opacity": 1},
      "encoding": {"x": {"field":"d","type":"temporal"}, "y": {"field": "v", "type": "quantitative", "axis": {"orient": "left", "values": [0,0.2,0.4,0.6,0.8,5,10,15,20], "labelExpr": "indexof([0,0.4,0.8], datum.value) >= 0 ? replace(format(datum.value, '.1f'), '.', ',') : (indexof([10,20], datum.value) >= 0 ? '' + datum.value : '')", "grid": true, "labelOverlap": false}}}},
     {"data": {"values": [{}]}, "mark": {"type": "text", "text": "=", "fontSize": 34, "fontWeight": "bold", "angle": -20, "fill": "white", "stroke": "white", "strokeWidth": 5},
      "encoding": {"x": {"datum": {"year":2010,"month":2,"date":1,"utc":true}, "type": "temporal"}, "y": {"datum": 0.92, "type": "quantitative", "axis": {"orient": "left", "values": [0,0.2,0.4,0.6,0.8,5,10,15,20], "labelExpr": "indexof([0,0.4,0.8], datum.value) >= 0 ? replace(format(datum.value, '.1f'), '.', ',') : (indexof([10,20], datum.value) >= 0 ? '' + datum.value : '')", "grid": true, "labelOverlap": false}}}},
     {"data": {"values": [{}]}, "mark": {"type": "text", "text": "=", "fontSize": 34, "fontWeight": "bold", "angle": -20, "fill": "#111"},
      "encoding": {"x": {"datum": {"year":2010,"month":2,"date":1,"utc":true}, "type": "temporal"}, "y": {"datum": 0.92, "type": "quantitative", "axis": {"orient": "left", "values": [0,0.2,0.4,0.6,0.8,5,10,15,20], "labelExpr": "indexof([0,0.4,0.8], datum.value) >= 0 ? replace(format(datum.value, '.1f'), '.', ',') : (indexof([10,20], datum.value) >= 0 ? '' + datum.value : '')", "grid": true, "labelOverlap": false}}}},
     {"data": {"values": [{}]}, "mark": {"type": "text", "text": "=", "fontSize": 34, "fontWeight": "bold", "angle": -20, "fill": "white", "stroke": "white", "strokeWidth": 5},
      "encoding": {"x": {"datum": {"year":2010,"month":7,"date":4,"hours":10,"utc":true}, "type": "temporal"}, "y": {"datum": 0.92, "type": "quantitative", "axis": {"orient": "left", "values": [0,0.2,0.4,0.6,0.8,5,10,15,20], "labelExpr": "indexof([0,0.4,0.8], datum.value) >= 0 ? replace(format(datum.value, '.1f'), '.', ',') : (indexof([10,20], datum.value) >= 0 ? '' + datum.value : '')", "grid": true, "labelOverlap": false}}}},
     {"data": {"values": [{}]}, "mark": {"type": "text", "text": "=", "fontSize": 34, "fontWeight": "bold", "angle": -20, "fill": "#111"},
      "encoding": {"x": {"datum": {"year":2010,"month":7,"date":4,"hours":10,"utc":true}, "type": "temporal"}, "y": {"datum": 0.92, "type": "quantitative", "axis": {"orient": "left", "values": [0,0.2,0.4,0.6,0.8,5,10,15,20], "labelExpr": "indexof([0,0.4,0.8], datum.value) >= 0 ? replace(format(datum.value, '.1f'), '.', ',') : (indexof([10,20], datum.value) >= 0 ? '' + datum.value : '')", "grid": true, "labelOverlap": false}}}}
   ]}
  ],
  "resolve": {"scale": {"y": "independent"}}
 },
 {"width": 595, "height": 248,
  "title": {"text": "Nitrate", "anchor": "start", "frame": "group", "offset": -40, "dx": 14},
  "layer": [
   {"data": {"name": "rain"}, "mark": {"type": "bar", "width": 3.6, "fill": "#555", "stroke": "#1a1a1a", "strokeWidth": 0.8},
    "encoding": {
     "x": {"field":"d","type":"temporal","scale":{"type":"utc","domain":[{"year":2010,"month":2,"date":1,"utc":true},{"year":2010,"month":7,"date":4,"hours":10,"utc":true}]},"axis":{"values":[{"year":2010,"month":2,"date":1,"utc":true},{"year":2010,"month":3,"date":1,"utc":true},{"year":2010,"month":4,"date":1,"utc":true},{"year":2010,"month":5,"date":1,"utc":true},{"year":2010,"month":6,"date":1,"utc":true}],"labels":false,"grid":true}},
     "y": {"field": "p", "type": "quantitative", "scale": {"domain": [0, 74.4], "nice": false}, "axis": {"orient": "right", "values": [10,20,30,40,50,60,70], "grid": false, "tickSize": 6, "labelPadding": 4, "labelOverlap": false}}}},
   {"data": {"name": "NO3"}, "layer": [
     {"data": {"values": [{}]}, "mark": {"type": "rect", "fill": "white"},
      "encoding": {"x": {"datum": {"year":2010,"month":2,"date":1,"hours":8,"utc":true}, "type": "temporal"}, "x2": {"datum": {"year":2010,"month":3,"date":4,"utc":true}},
       "y": {"datum": 19.48, "type": "quantitative", "axis": {"orient": "left", "values": [0,2,4,6,8,10,12,14,16,18], "labelExpr": "datum.value % 4 === 0 ? '' + datum.value : ''", "grid": true, "labelOverlap": false}}, "y2": {"datum": 16.5}}},
     {"mark": {"type": "line", "color": "#222", "strokeWidth": 1.4},
      "encoding": {"x": {"field":"d","type":"temporal"}, "detail": {"field": "s"},
       "y": {"field": "v", "type": "quantitative", "scale": {"domain": [0, 19.6], "nice": false, "zero": false}, "axis": {"orient": "left", "values": [0,2,4,6,8,10,12,14,16,18], "labelExpr": "datum.value % 4 === 0 ? '' + datum.value : ''", "grid": true, "labelOverlap": false}}}},
     {"mark": {"type": "point", "shape": "circle", "filled": true, "fill": "#9a9a9a", "stroke": "#333", "strokeWidth": 1.2, "size": 50, "opacity": 1},
      "encoding": {"x": {"field":"d","type":"temporal"}, "y": {"field": "v", "type": "quantitative", "axis": {"orient": "left", "values": [0,2,4,6,8,10,12,14,16,18], "labelExpr": "datum.value % 4 === 0 ? '' + datum.value : ''", "grid": true, "labelOverlap": false}}}}
   ]}
  ],
  "resolve": {"scale": {"y": "independent"}}
 },
 {"width": 595, "height": 248,
  "title": {"text": "Total Organic Carbon", "anchor": "start", "frame": "group", "offset": -41, "dx": 8, "fontWeight": "normal", "fontSize": 28.5},
  "layer": [
   {"data": {"name": "rain"}, "mark": {"type": "bar", "width": 3.6, "fill": "#555", "stroke": "#1a1a1a", "strokeWidth": 0.8},
    "encoding": {
     "x": {"field":"d","type":"temporal","scale":{"type":"utc","domain":[{"year":2010,"month":2,"date":1,"utc":true},{"year":2010,"month":7,"date":4,"hours":10,"utc":true}]},"axis":{"values":[{"year":2010,"month":2,"date":1,"utc":true},{"year":2010,"month":3,"date":1,"utc":true},{"year":2010,"month":4,"date":1,"utc":true},{"year":2010,"month":5,"date":1,"utc":true},{"year":2010,"month":6,"date":1,"utc":true}],"labels":true,"grid":true,"labelExpr":"utcFormat(datum.value, '%b')","labelOffset":{"condition":[{"test":"utcmonth(datum.value) === 1","value":52},{"test":"utcmonth(datum.value) === 4","value":62},{"test":"utcmonth(datum.value) === 5","value":67}],"value":59},"labelFontWeight":"bold","labelPadding":0,"labelFlush":false,"labelBound":false,"labelOverlap":false}},
     "y": {"field": "p", "type": "quantitative", "scale": {"domain": [0, 74.4], "nice": false}, "axis": {"orient": "right", "values": [10,20,30,40,50,60,70], "grid": false, "tickSize": 6, "labelPadding": 4, "labelOverlap": false}}}},
   {"data": {"name": "TOC"}, "layer": [
     {"data": {"values": [{}]}, "mark": {"type": "rect", "fill": "white"},
      "encoding": {"x": {"datum": {"year":2010,"month":2,"date":1,"hours":8,"utc":true}, "type": "temporal"}, "x2": {"datum": {"year":2010,"month":4,"date":16,"hours":5,"utc":true}},
       "y": {"datum": 59.1, "type": "quantitative", "axis": {"orient": "left", "values": [2,3,4,5,6,20,30,40,50], "labelExpr": "indexof([2,4,20,40], datum.value) >= 0 ? '' + datum.value : ''", "grid": true, "labelOverlap": false}}, "y2": {"datum": 34}}},
     {"mark": {"type": "line", "color": "#222", "strokeWidth": 1.4},
      "encoding": {"x": {"field":"d","type":"temporal"}, "detail": {"field": "s"},
       "y": {"field": "v", "type": "quantitative", "scale": {"domain": [1.08, 6, 10, 60], "range": [248, 89.5, 87, 0], "nice": false, "zero": false}, "axis": {"orient": "left", "values": [2,3,4,5,6,20,30,40,50], "labelExpr": "indexof([2,4,20,40], datum.value) >= 0 ? '' + datum.value : ''", "grid": true, "labelOverlap": false}}}},
     {"mark": {"type": "point", "shape": "circle", "filled": true, "fill": "#9a9a9a", "stroke": "#333", "strokeWidth": 1.2, "size": 50, "opacity": 1},
      "encoding": {"x": {"field":"d","type":"temporal"}, "y": {"field": "v", "type": "quantitative", "axis": {"orient": "left", "values": [2,3,4,5,6,20,30,40,50], "labelExpr": "indexof([2,4,20,40], datum.value) >= 0 ? '' + datum.value : ''", "grid": true, "labelOverlap": false}}}},
     {"data": {"values": [{}]}, "mark": {"type": "text", "text": "=", "fontSize": 34, "fontWeight": "bold", "angle": -20, "fill": "white", "stroke": "white", "strokeWidth": 5},
      "encoding": {"x": {"datum": {"year":2010,"month":2,"date":1,"utc":true}, "type": "temporal"}, "y": {"datum": 8, "type": "quantitative", "axis": {"orient": "left", "values": [2,3,4,5,6,20,30,40,50], "labelExpr": "indexof([2,4,20,40], datum.value) >= 0 ? '' + datum.value : ''", "grid": true, "labelOverlap": false}}}},
     {"data": {"values": [{}]}, "mark": {"type": "text", "text": "=", "fontSize": 34, "fontWeight": "bold", "angle": -20, "fill": "#111"},
      "encoding": {"x": {"datum": {"year":2010,"month":2,"date":1,"utc":true}, "type": "temporal"}, "y": {"datum": 8, "type": "quantitative", "axis": {"orient": "left", "values": [2,3,4,5,6,20,30,40,50], "labelExpr": "indexof([2,4,20,40], datum.value) >= 0 ? '' + datum.value : ''", "grid": true, "labelOverlap": false}}}},
     {"data": {"values": [{}]}, "mark": {"type": "text", "text": "=", "fontSize": 34, "fontWeight": "bold", "angle": -20, "fill": "white", "stroke": "white", "strokeWidth": 5},
      "encoding": {"x": {"datum": {"year":2010,"month":7,"date":4,"hours":10,"utc":true}, "type": "temporal"}, "y": {"datum": 8, "type": "quantitative", "axis": {"orient": "left", "values": [2,3,4,5,6,20,30,40,50], "labelExpr": "indexof([2,4,20,40], datum.value) >= 0 ? '' + datum.value : ''", "grid": true, "labelOverlap": false}}}},
     {"data": {"values": [{}]}, "mark": {"type": "text", "text": "=", "fontSize": 34, "fontWeight": "bold", "angle": -20, "fill": "#111"},
      "encoding": {"x": {"datum": {"year":2010,"month":7,"date":4,"hours":10,"utc":true}, "type": "temporal"}, "y": {"datum": 8, "type": "quantitative", "axis": {"orient": "left", "values": [2,3,4,5,6,20,30,40,50], "labelExpr": "indexof([2,4,20,40], datum.value) >= 0 ? '' + datum.value : ''", "grid": true, "labelOverlap": false}}}}
   ]}
  ],
  "resolve": {"scale": {"y": "independent"}}
 }
], "spacing": 0, "bounds": "flush"}
]
}
